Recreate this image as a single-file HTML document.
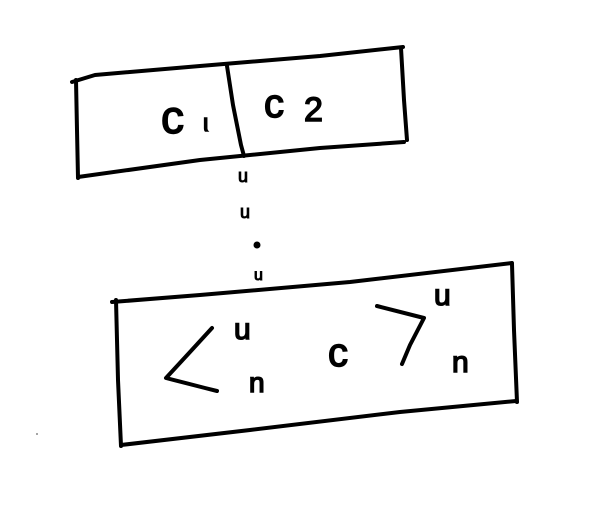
<!DOCTYPE html>
<html>
<head>
<meta charset="utf-8">
<style>
html,body{margin:0;padding:0;background:#fff;}
svg{display:block;}
text{font-family:"Liberation Sans",sans-serif;fill:#000;}
</style>
</head>
<body>
<svg width="602" height="519" viewBox="0 0 602 519">
  <g fill="none" stroke="#000" stroke-width="4" stroke-linecap="round" stroke-linejoin="round">
    <path d="M72 82 L95 75 L200 66 L320 56 L403 47"/>
    <path d="M76 80 L77 130 L78 178"/>
    <path d="M78 177 L200 160 L320 148 L404 142"/>
    <path d="M401 48 L404 100 L407 140"/>
    <path d="M227 66 L233 105 L241 145 L244 156"/>
  </g>
  <g font-size="46" stroke="#000" stroke-width="1.5">
    <text x="161" y="133">c</text>
    <text x="203" y="131" font-size="24">ι</text>
    <text x="264" y="117" font-size="40">c</text>
    <text x="304" y="121" font-size="34">2</text>
  </g>
  <g font-size="18" stroke="#000" stroke-width="1">
    <text x="238" y="182">u</text>
    <text x="240" y="218">u</text>
    <circle cx="257" cy="245" r="3" fill="#000"/>
    <text x="254" y="280" font-size="16">u</text>
  </g>
  <g fill="none" stroke="#000" stroke-width="4" stroke-linecap="round" stroke-linejoin="round">
    <path d="M112 302 L200 295 L350 282 L512 263"/>
    <path d="M116 300 L118 380 L121 446"/>
    <path d="M121 445 L250 430 L400 412 L516 401"/>
    <path d="M512 264 L514 330 L517 402"/>
  </g>
  <g fill="none" stroke="#000" stroke-width="4" stroke-linecap="round" stroke-linejoin="round">
    <path d="M212 328 L190 352 L166 378 L205 388 L217 391"/>
    <path d="M377 306 L424 318 L410 345 L402 364"/>
  </g>
  <g font-size="30" stroke="#000" stroke-width="1.5">
    <text x="234" y="339">u</text>
    <text x="249" y="392" font-size="28">n</text>
    <text x="328" y="366" font-size="40">c</text>
    <text x="434" y="305">u</text>
    <text x="452" y="372">n</text>
  </g>
  <circle cx="37" cy="434" r="1" fill="#888"/>
</svg>
</body>
</html>
